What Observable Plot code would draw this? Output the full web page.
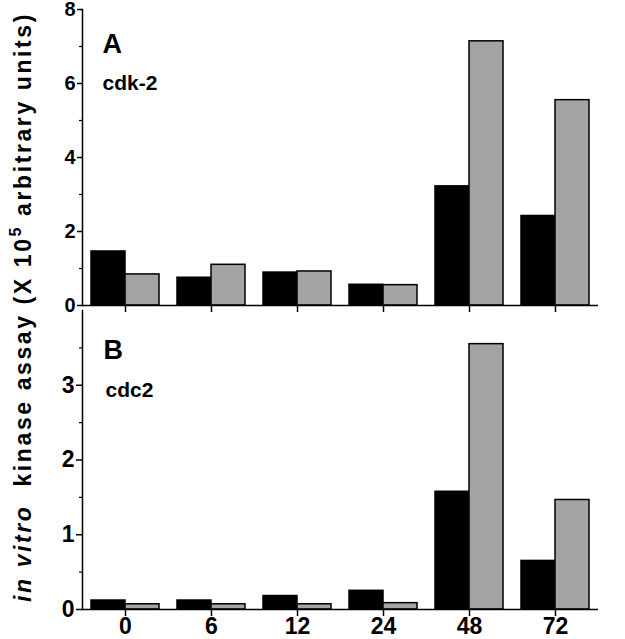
<!DOCTYPE html>
<html>
<head>
<meta charset="utf-8">
<script src="https://cdn.jsdelivr.net/npm/d3@7"></script>
<script src="https://cdn.jsdelivr.net/npm/@observablehq/plot@0.6"></script>
<style>
  html, body { margin: 0; padding: 0; background: white; }
  #wrap { position: relative; width: 625px; height: 639px; overflow: hidden; }
  #wrap > * { position: absolute; left: 0; }
</style>
</head>
<body>
<div id="wrap"></div>
<script>
const times = ["0", "6", "12", "24", "48", "72"];
const series = ["control", "treated"];
const cdk2Black = [1.46, 0.75, 0.89, 0.56, 3.22, 2.42];
const cdk2Gray  = [0.84, 1.10, 0.92, 0.55, 7.14, 5.55];
const cdc2Black = [0.12, 0.12, 0.18, 0.25, 1.575, 0.65];
const cdc2Gray  = [0.07, 0.07, 0.07, 0.085, 3.55, 1.465];
const panelA = {letter: "A", name: "cdk-2", domain: [0, 8], major: [0, 2, 4, 6, 8], minor: [1, 3, 5, 7]};
const panelB = {letter: "B", name: "cdc2", domain: [0, 4], major: [0, 1, 2, 3], minor: [0.5, 1.5, 2.5, 3.5]};
const yLabelParts = ["in vitro", "  kinase assay (X 10", "5", " arbitrary units)"];

const FONT = "'Liberation Sans', Arial, Helvetica, sans-serif";

function rows(blackVals, grayVals) {
  const out = [];
  times.forEach((t, i) => {
    out.push({time: t, series: series[0], value: blackVals[i]});
    out.push({time: t, series: series[1], value: grayVals[i]});
  });
  return out;
}

function panel(data, p, opts) {
  return Plot.plot({
    width: 625,
    height: opts.height,
    marginLeft: 80,
    marginRight: 25,
    marginTop: opts.marginTop,
    marginBottom: opts.marginBottom,
    style: {fontFamily: FONT, fontSize: "21px", fontWeight: "bold", background: "transparent", overflow: "visible", color: "black"},
    fx: {domain: times, padding: 0, label: null, axis: null},
    x: {domain: series, paddingInner: 0, paddingOuter: 0.26, axis: null},
    y: {domain: p.domain, axis: null},
    color: {domain: series, range: ["#000000", "#a3a3a3"]},
    marks: [
      Plot.barY(data, {fx: "time", x: "series", y: "value", fill: "series", stroke: "black", strokeWidth: 1.5}),
      Plot.ruleY([0], {strokeWidth: 1.5}),
      Plot.frame({anchor: "left", facetAnchor: "left", strokeWidth: 1.5}),
      Plot.axisY({ticks: p.major, tickSize: opts.ySize, tickPadding: 2, tickFormat: (d) => String(d),
                  label: null, strokeWidth: 1.5, fontSize: opts.yFont}),
      Plot.axisY({ticks: p.minor, tickSize: 3, tickFormat: () => "", label: null, strokeWidth: 1.2}),
      Plot.axisFx({anchor: "bottom", tickSize: 7, tickPadding: 1, label: null, strokeWidth: 1.5,
                   tickFormat: opts.labels ? (d) => d : () => "", fontSize: 23}),
      Plot.text([{time: times[0], t: p.letter}], {fx: "time", text: "t", frameAnchor: "top-left",
                 textAnchor: "start", lineAnchor: "top", dx: opts.letterDx, dy: opts.letterDy, fontSize: 27, fontWeight: "bold"}),
      Plot.text([{time: times[0], t: p.name}], {fx: "time", text: "t", frameAnchor: "top-left",
                 textAnchor: "start", lineAnchor: "top", dx: opts.nameDx, dy: opts.nameDy, fontSize: 21, fontWeight: "bold"})
    ]
  });
}

const wrap = document.getElementById("wrap");
const chartA = panel(rows(cdk2Black, cdk2Gray), panelA,
  {height: 312, marginTop: 9, marginBottom: 7, labels: false, yFont: 20, ySize: 5,
   letterDx: 20, letterDy: 24, nameDx: 20, nameDy: 66});
chartA.style.top = "0px";
wrap.appendChild(chartA);

const chartB = panel(rows(cdc2Black, cdc2Gray), panelB,
  {height: 339, marginTop: 10, marginBottom: 30, labels: true, yFont: 23, ySize: 6,
   letterDx: 21, letterDy: 29, nameDx: 23, nameDy: 72});
chartB.style.top = "300px";
wrap.appendChild(chartB);

// Shared y-axis label for both panels
const ns = "http://www.w3.org/2000/svg";
const lab = document.createElementNS(ns, "svg");
lab.setAttribute("width", 60);
lab.setAttribute("height", 639);
lab.style.top = "0px";
lab.style.overflow = "visible";
const txt = document.createElementNS(ns, "text");
txt.setAttribute("transform", "translate(31,307) rotate(-90)");
txt.setAttribute("text-anchor", "middle");
txt.setAttribute("font-family", FONT);
txt.setAttribute("font-size", 23);
txt.setAttribute("font-weight", "bold");
txt.setAttribute("letter-spacing", "2.6");
txt.style.whiteSpace = "pre";
const t1 = document.createElementNS(ns, "tspan");
t1.setAttribute("font-style", "italic");
t1.textContent = yLabelParts[0];
const t2 = document.createElementNS(ns, "tspan");
t2.textContent = yLabelParts[1];
const t3 = document.createElementNS(ns, "tspan");
t3.setAttribute("font-size", 16);
t3.setAttribute("dy", -10);
t3.textContent = yLabelParts[2];
const t4 = document.createElementNS(ns, "tspan");
t4.setAttribute("dy", 10);
t4.textContent = yLabelParts[3];
[t1, t2, t3, t4].forEach((t) => txt.appendChild(t));
lab.appendChild(txt);
wrap.appendChild(lab);
</script>
</body>
</html>
